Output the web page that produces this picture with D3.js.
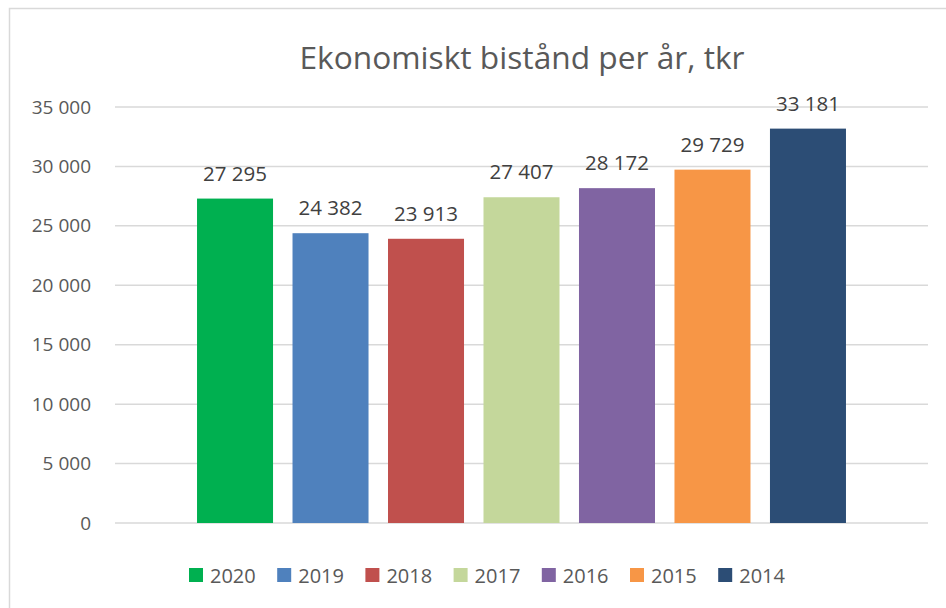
<!DOCTYPE html>
<html><head><meta charset="utf-8">
<script src="https://cdn.jsdelivr.net/npm/d3@7"></script>
<style>body{margin:0;background:#fff;} svg{display:block;}</style>
</head><body>
<svg id="c" width="946" height="608"></svg>
<script>
const categories = ["2020","2019","2018","2017","2016","2015","2014"];
const values = [27295, 24382, 23913, 27407, 28172, 29729, 33181];
const colors = ["#00B050","#4F81BD","#C0504D","#C4D79B","#8064A2","#F79646","#2C4D75"];
const yTicks = [0,5000,10000,15000,20000,25000,30000,35000];
const title = "Ekonomiskt bistånd per år, tkr";

const svg = d3.select("#c");
const font = "'Open Sans', 'Noto Sans', sans-serif";
const fmt = v => d3.format(",")(v).replace(/,/g, " ");

svg.append("rect").attr("x",9.5).attr("y",8.5).attr("width",960).attr("height",620)
  .attr("fill","#fff").attr("stroke","#d9d9d9").attr("stroke-width",1.5);

const x = d3.scaleBand().domain(categories).range([115,928]).paddingInner(0.204).paddingOuter(0.859);
const y = d3.scaleLinear().domain([0,35000]).range([523,107]);

const grid = svg.append("g");
grid.selectAll("line").data(yTicks).join("line")
  .attr("x1",115).attr("x2",928).attr("y1",d=>y(d)).attr("y2",d=>y(d))
  .attr("stroke","#d9d9d9").attr("stroke-width",1.5);

const yAxis = d3.axisLeft(y).tickValues(yTicks).tickFormat(fmt).tickSize(0).tickPadding(0);
const ga = svg.append("g").attr("transform","translate(91,0)").call(yAxis);
ga.select(".domain").remove();
ga.selectAll("text").attr("font-family",font).attr("font-size",19).attr("fill","#595959");

svg.append("g").selectAll("rect").data(values).join("rect")
  .attr("x",(d,i)=>x(categories[i])).attr("width",x.bandwidth())
  .attr("y",d=>y(d)).attr("height",d=>y(0)-y(d))
  .attr("fill",(d,i)=>colors[i]);

svg.append("g").selectAll("text").data(values).join("text")
  .attr("x",(d,i)=>x(categories[i])+x.bandwidth()/2).attr("y",d=>y(d)-18)
  .attr("text-anchor","middle").attr("font-family",font).attr("font-size",20.5)
  .attr("fill","#404040").text(d=>fmt(d));

svg.append("text").attr("x",522).attr("y",69).attr("text-anchor","middle")
  .attr("font-family",font).attr("font-size",31.7).attr("fill","#595959").text(title);

const leg = svg.append("g").selectAll("g").data(categories).join("g")
  .attr("transform",(d,i)=>`translate(${189+i*88.2},568)`);
leg.append("rect").attr("width",14).attr("height",14).attr("fill",(d,i)=>colors[i]);
leg.append("text").attr("x",21).attr("y",14.5).attr("font-family",font).attr("font-size",20)
  .attr("fill","#595959").text(d=>d);
</script>
</body></html>
